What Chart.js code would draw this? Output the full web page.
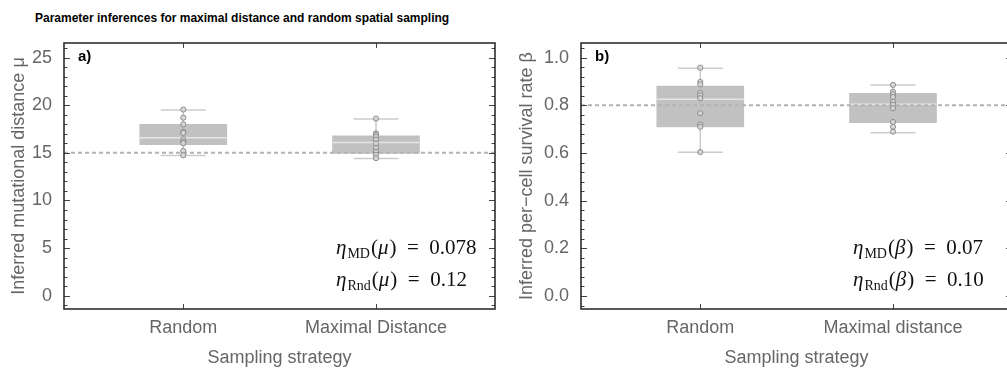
<!DOCTYPE html>
<html>
<head>
<meta charset="utf-8">
<script src="https://cdn.jsdelivr.net/npm/chart.js@4.4.1/dist/chart.umd.min.js"></script>
<style>
  body { margin: 0; width: 1007px; height: 369px; overflow: hidden; background: #fff; position: relative; }
  #title { position: absolute; left: 35px; top: 11px; font: bold 12px "Liberation Sans", Arial, sans-serif; color: #000; white-space: nowrap; }
  #cA { position: absolute; left: 0; top: 0; }
  #cB { position: absolute; left: 500px; top: 0; }
</style>
</head>
<body>
<div id="title">Parameter inferences for maximal distance and random spatial sampling</div>
<canvas id="cA" width="500" height="369"></canvas>
<canvas id="cB" width="520" height="369"></canvas>
<script>
// categories
const catsMu = ['Random', 'Maximal Distance'];
const catsBeta = ['Random', 'Maximal distance'];
const catPos = [1, 2];

// panel a: inferred mu (10 runs per strategy)
const muRandom = [19.55, 18.7, 18.0, 17.2, 17.1, 16.4, 16.15, 16.0, 15.2, 14.75];
const muMaxDist = [18.6, 17.05, 16.9, 16.7, 16.4, 16.0, 15.5, 15.1, 14.8, 14.45];
// [whiskerLow, q1, median, q3, whiskerHigh]
const muBoxRandom = [14.72, 15.85, 16.6, 18.0, 19.5];
const muBoxMaxDist = [14.4, 14.95, 16.1, 16.8, 18.55];
const muTrue = 15;
const muTicks = [0, 5, 10, 15, 20, 25];
const muEta = [['MD', '0.078'], ['Rnd', '0.12']];

// panel b: inferred beta
const betaRandom = [0.958, 0.898, 0.888, 0.852, 0.842, 0.83, 0.767, 0.72, 0.71, 0.604];
const betaMaxDist = [0.886, 0.857, 0.847, 0.835, 0.815, 0.803, 0.788, 0.73, 0.71, 0.69];
const betaBoxRandom = [0.603, 0.71, 0.826, 0.881, 0.956];
const betaBoxMaxDist = [0.685, 0.727, 0.805, 0.851, 0.885];
const betaTrue = 0.8;
const betaTicks = [0.0, 0.2, 0.4, 0.6, 0.8, 1.0];
const betaEta = [['MD', '0.07'], ['Rnd', '0.10']];

const X_RANGE = [0.381, 2.6175];
const BOX_HALF = 0.2257;
const CAP_HALF = 0.117;
const GREY_TXT = '#666666';
const SANS = '"Liberation Sans", Arial, sans-serif';
const SERIF = '"Liberation Serif", "DejaVu Serif", serif';

function seg(x1, y1, x2, y2, color, width, order, dash) {
  return {
    type: 'line', data: [{x: x1, y: y1}, {x: x2, y: y2}],
    borderColor: color, borderWidth: width, borderDash: dash || [],
    pointRadius: 0, fill: false, order: order
  };
}

function boxDatasets(pos, box, pts) {
  const [lo, q1, med, q3, hi] = box;
  return [
    seg(pos, lo, pos, hi, '#cccccc', 1.5, 5),
    seg(pos - CAP_HALF, lo, pos + CAP_HALF, lo, '#cccccc', 1.5, 5),
    seg(pos - CAP_HALF, hi, pos + CAP_HALF, hi, '#cccccc', 1.5, 5),
    { type: 'bar', data: [{x: pos, y: [q1, q3]}], backgroundColor: '#c1c1c1',
      borderWidth: 0, barThickness: 87, grouped: false, order: 4 },
    seg(pos - BOX_HALF, med, pos + BOX_HALF, med, '#e6e6e6', 1.5, 3),
    { type: 'scatter', data: pts.map(v => ({x: pos, y: v})), pointRadius: 2.6,
      pointBorderWidth: 1, pointBorderColor: '#8c8c8c', pointBackgroundColor: 'rgba(215,215,215,0.9)', order: 0 }
  ];
}

function drawEta(ctx, x, y, sub, param, value) {
  ctx.fillStyle = '#111';
  ctx.textBaseline = 'alphabetic';
  ctx.textAlign = 'left';
  ctx.font = 'italic 21px ' + SERIF;
  ctx.fillText('η', x, y); x += ctx.measureText('η').width + 1;
  ctx.font = '14px ' + SERIF;
  ctx.fillText(sub, x, y + 4); x += ctx.measureText(sub).width + 1;
  ctx.font = '21px ' + SERIF;
  ctx.fillText('(', x, y); x += ctx.measureText('(').width;
  ctx.font = 'italic 21px ' + SERIF;
  ctx.fillText(param, x, y); x += ctx.measureText(param).width + 1;
  ctx.font = '21px ' + SERIF;
  ctx.fillText(')  =  ' + value, x, y);
}

function makePanel(id, o) {
  const datasets = [
    seg(X_RANGE[0], o.ref, X_RANGE[1], o.ref, '#b3b3b3', 2, 2, [4, 3]),
    ...boxDatasets(catPos[0], o.boxes[0], o.points[0]),
    ...boxDatasets(catPos[1], o.boxes[1], o.points[1])
  ];
  const decor = {
    id: 'decor',
    afterDatasetsDraw(chart) {
      const {ctx, chartArea: a, scales: {x, y}} = chart;
      ctx.save();
      ctx.strokeStyle = '#444';
      ctx.lineWidth = 1;
      // minor + major ticks left/right
      const n = Math.round((o.range[1] - o.range[0]) / o.minor) + 2;
      const start = Math.ceil(o.range[0] / o.minor) * o.minor;
      for (let i = 0; i < n; i++) {
        const v = start + i * o.minor;
        if (v > o.range[1]) break;
        const major = o.ticks.some(t => Math.abs(t - v) < o.minor / 10);
        const py = Math.round(y.getPixelForValue(v)) + 0.5;
        const len = major ? 6 : 3.5;
        ctx.beginPath();
        ctx.moveTo(a.left, py); ctx.lineTo(a.left + len, py);
        ctx.moveTo(a.right, py); ctx.lineTo(a.right - len, py);
        ctx.stroke();
      }
      catPos.forEach(c => {
        const px = Math.round(x.getPixelForValue(c)) + 0.5;
        ctx.beginPath();
        ctx.moveTo(px, a.top); ctx.lineTo(px, a.top + 5);
        ctx.moveTo(px, a.bottom); ctx.lineTo(px, a.bottom - 5);
        ctx.stroke();
      });
      // frame
      ctx.strokeStyle = '#222';
      ctx.lineWidth = 1.5;
      ctx.strokeRect(a.left, a.top, a.right - a.left, a.bottom - a.top);
      // panel label
      ctx.fillStyle = '#000';
      ctx.font = 'bold 15px ' + SANS;
      ctx.textBaseline = 'middle';
      ctx.fillText(o.label, a.left + 14, a.top + 14);
      // eta annotations
      o.eta.forEach((e, i) => drawEta(ctx, a.left + 272, a.top + 211 + i * 32, e[0], o.param, e[1]));
      ctx.restore();
    }
  };
  return new Chart(document.getElementById(id), {
    type: 'scatter',
    data: { datasets },
    options: {
      responsive: false,
      animation: false,
      events: [],
      layout: { padding: { left: 0, right: o.padRight, top: 43, bottom: 0 } },
      plugins: { legend: { display: false }, tooltip: { enabled: false } },
      scales: {
        x: {
          type: 'linear', min: X_RANGE[0], max: X_RANGE[1], offset: false,
          afterBuildTicks: s => { s.ticks = catPos.map(v => ({value: v})); },
          afterFit: s => { s.height = 60; },
          grid: { display: false }, border: { display: false },
          ticks: { callback: v => o.cats[catPos.indexOf(v)], font: { family: SANS, size: 18 }, color: GREY_TXT, padding: 0, maxRotation: 0 },
          title: { display: true, text: 'Sampling strategy', font: { family: SANS, size: 18 }, color: GREY_TXT, padding: { top: 0, bottom: 0 } }
        },
        y: {
          type: 'linear', min: o.range[0], max: o.range[1],
          afterBuildTicks: s => { s.ticks = o.ticks.map(v => ({value: v})); },
          afterFit: s => { s.width = o.yWidth; },
          grid: { display: false }, border: { display: false },
          ticks: { callback: o.fmt, font: { family: SANS, size: 18 }, color: GREY_TXT, padding: 4 },
          title: { display: true, text: o.yTitle, font: { family: SANS, size: 18 }, color: GREY_TXT, padding: { top: o.titlePad, bottom: 0 } }
        }
      }
    },
    plugins: [decor]
  });
}

makePanel('cA', {
  cats: catsMu, points: [muRandom, muMaxDist], boxes: [muBoxRandom, muBoxMaxDist],
  ref: muTrue, ticks: muTicks, range: [-1.4, 26.54], minor: 1, fmt: v => String(v),
  yTitle: 'Inferred mutational distance μ', yWidth: 64, titlePad: 8, padRight: 5,
  label: 'a)', param: 'μ', eta: muEta
});
makePanel('cB', {
  cats: catsBeta, points: [betaRandom, betaMaxDist], boxes: [betaBoxRandom, betaBoxMaxDist],
  ref: betaTrue, ticks: betaTicks, range: [-0.0546, 1.0617], minor: 0.04, fmt: v => v.toFixed(1),
  yTitle: 'Inferred per−cell survival rate β', yWidth: 81, titlePad: 16, padRight: 8,
  label: 'b)', param: 'β', eta: betaEta
});
</script>
</body>
</html>
